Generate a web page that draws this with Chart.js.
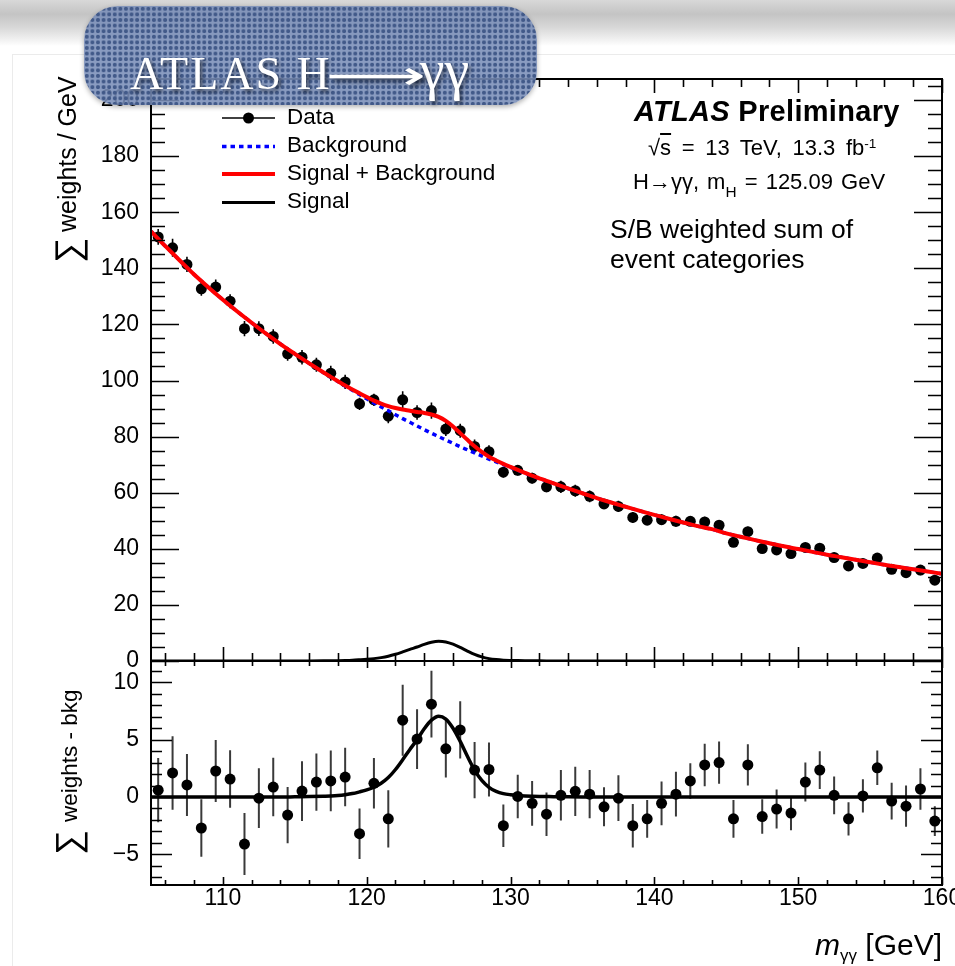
<!DOCTYPE html>
<html>
<head>
<meta charset="utf-8">
<title>ATLAS H→γγ</title>
<script src="https://cdn.jsdelivr.net/npm/chart.js@4.4.1/dist/chart.umd.min.js"></script>
<style>
  body { margin: 0; width: 955px; height: 966px; overflow: hidden; background: #fff; position: relative;
         font-family: "Liberation Sans", Arial, Helvetica, sans-serif; }
  .topbar { position: absolute; left: 0; top: 0; width: 955px; height: 46px;
            background: linear-gradient(#d8d8d8 0px, #c4c4c4 14px, #d9d9d9 28px, #f6f6f6 42px, #fff 46px); }
  .sheet { position: absolute; left: 12px; top: 54px; right: 0; bottom: 0; background: #fff;
           border-left: 1px solid #ebebeb; border-top: 1px solid #ebebeb; }
  .panel { position: absolute; left: 0; width: 955px; }
  #mainPanel { top: 0; height: 700px; }
  #resPanel { top: 630px; height: 336px; }
  .info { position: absolute; white-space: nowrap; line-height: 1; color: #000; }
  .sup { position: relative; top: -0.55em; font-size: 0.62em; }
  .sub { position: relative; top: 0.5em; font-size: 0.7em; }
  .banner { position: absolute; left: 84px; top: 6px; width: 453px; height: 99px; border-radius: 34px;
            background-color: rgba(122, 142, 184, 0.88);
            background-image: radial-gradient(circle, rgba(62, 86, 134, 0.95) 0 1.6px, rgba(62, 86, 134, 0) 2.4px);
            background-size: 5.6px 5.6px;
            box-shadow: 0 2px 5px rgba(0, 0, 0, 0.3); }
  .banner .title { position: absolute; left: 46px; top: 36px; font: 46px "Liberation Serif", "Times New Roman", serif;
                   line-height: 1; color: #fff; letter-spacing: 2px; white-space: nowrap;
                   text-shadow: 2px 3px 4px rgba(0, 0, 0, 0.6); }
  .banner .arrow { display: inline-block; width: 94px; margin-left: -6px; letter-spacing: 0;
                   font: 40px "DejaVu Sans", sans-serif; line-height: 1; }
  .banner .arrow span { display: inline-block; transform: scaleX(1.75); transform-origin: left center; }
  .banner .gam { font-size: 56px; letter-spacing: 0; }
</style>
</head>
<body>
<div class="topbar"></div>
<div class="sheet"></div>
<div class="panel" id="mainPanel"><canvas id="mainChart" width="955" height="700"></canvas></div>
<div class="panel" id="resPanel"><canvas id="resChart" width="955" height="336"></canvas></div>

<div class="info" style="left:634px; top:97px; font-size:29px; font-weight:bold; letter-spacing:0.3px;"><i>ATLAS</i> Preliminary</div>
<div class="info" style="left:648px; top:137px; font-size:22px; word-spacing:4.5px;">√<span style="text-decoration:overline">s</span> = 13 TeV, 13.3 fb<span class="sup">-1</span></div>
<div class="info" style="left:633px; top:171px; font-size:22px; word-spacing:2px;">H→γγ, m<span class="sub">H</span> = 125.09 GeV</div>
<div class="info" style="left:610px; top:216px; font-size:26.5px;">S/B weighted sum of</div>
<div class="info" style="left:610px; top:246px; font-size:26.5px;">event categories</div>

<div class="banner"><div class="title">ATLAS H<span class="arrow"><span>⟶</span></span><span class="gam">γγ</span></div></div>

<script>
// 1 GeV bins of the diphoton mass
const massBins = [105.5, 106.5, 107.5, 108.5, 109.5, 110.5, 111.5, 112.5, 113.5, 114.5,
                  115.5, 116.5, 117.5, 118.5, 119.5, 120.5, 121.5, 122.5, 123.5, 124.5,
                  125.5, 126.5, 127.5, 128.5, 129.5, 130.5, 131.5, 132.5, 133.5, 134.5,
                  135.5, 136.5, 137.5, 138.5, 139.5, 140.5, 141.5, 142.5, 143.5, 144.5,
                  145.5, 146.5, 147.5, 148.5, 149.5, 150.5, 151.5, 152.5, 153.5, 154.5,
                  155.5, 156.5, 157.5, 158.5, 159.5];

// S/B weighted sum of events per GeV
const sumWeights = [151.2, 147.3, 141.4, 132.7, 133.3, 128.3, 118.5, 118.5, 115.7, 109.5,
                    108.3, 105.6, 102.6, 99.5, 91.7, 93.1, 87.3, 93.1, 88.6, 89.3,
                    82.7, 82.1, 76.5, 74.6, 67.3, 68.0, 65.2, 62.1, 62.1, 60.7,
                    58.7, 56.0, 55.1, 51.2, 50.2, 50.4, 49.8, 49.8, 49.6, 48.4,
                    42.3, 46.1, 40.1, 39.6, 38.3, 40.5, 40.2, 36.9, 33.9, 34.8,
                    36.7, 32.7, 31.5, 32.4, 28.8];

const weightErrors = [2.8, 3.2, 2.7, 2.5, 2.7, 2.5, 2.7, 2.6, 2.55, 2.45,
                      2.6, 2.5, 2.65, 2.55, 2.2, 2.2, 2.5, 3.1, 2.6, 2.9,
                      2.5, 2.5, 2.45, 2.35, 1.85, 1.9, 1.95, 1.9, 2.2, 2.15,
                      2.1, 1.7, 2.0, 1.9, 1.65, 1.9, 1.95, 1.55, 1.85, 1.85,
                      1.65, 1.8, 1.5, 1.7, 1.5, 1.7, 1.65, 1.65, 1.45, 1.45,
                      1.5, 1.6, 1.8, 1.8, 1.3];

// data minus fitted background
const residuals = [0.6, 2.1, 1.05, -2.7, 2.27, 1.57, -4.1, -0.1, 0.87, -1.57,
                   0.52, 1.3, 1.4, 1.74, -3.2, 1.2, -1.9, 6.7, 5.05, 8.1,
                   4.2, 5.85, 2.35, 2.4, -2.5, 0.05, -0.55, -1.5, 0.15, 0.5,
                   0.25, -0.85, -0.1, -2.5, -1.9, -0.55, 0.25, 1.4, 2.8, 3.0,
                   -1.9, 2.8, -1.7, -1.05, -1.4, 1.3, 2.35, 0.15, -1.9, 0.1,
                   2.55, -0.35, -0.8, 0.7, -2.1];

// fitted curves, finer sampling around the peak
const fitMass = [105, 106, 107, 108, 109, 110, 111, 112, 113, 114, 115, 116, 117,
                 117.5, 118, 118.5, 119, 119.5, 120, 120.5, 121, 121.5, 122, 122.5, 123,
                 123.5, 124, 124.5, 125, 125.5, 126, 126.5, 127, 127.5, 128, 128.5, 129,
                 129.5, 130, 130.5, 131, 131.5, 132, 132.5, 133,
                 134, 135, 136, 137, 138, 139, 140, 141, 142, 143, 144, 145, 146, 147,
                 148, 149, 150, 151, 152, 153, 154, 155, 156, 157, 158, 159, 160];

const bkgFit = [153.2, 147.9, 142.8, 137.8, 133.2, 128.8, 124.6, 120.6, 116.7, 113.0, 109.5, 106.1, 102.8,
                101.2, 99.6, 98.0, 96.5, 95.0, 93.5, 92.0, 90.6, 89.2, 87.8, 86.4, 85.1,
                83.8, 82.5, 81.2, 80.0, 78.8, 77.6, 76.4, 75.3, 74.2, 73.1, 72.0, 71.0,
                70.0, 69.0, 68.0, 67.0, 66.0, 65.1, 64.2, 63.3,
                61.5, 59.8, 58.1, 56.5, 55.0, 53.5, 52.1, 50.7, 49.4, 48.1, 47.0, 45.5, 44.3, 43.1,
                42.0, 40.9, 39.9, 38.9, 37.9, 37.0, 36.1, 35.2, 34.3, 33.5, 32.7, 31.9, 31.1];

const sigFit = [0, 0, 0, 0, 0, 0, 0, 0, 0, 0, 0.02, 0.04, 0.07,
                0.09, 0.13, 0.2, 0.3, 0.45, 0.62, 0.85, 1.2, 1.7, 2.4, 3.25, 4.15,
                5.0, 5.95, 6.7, 7.05, 6.8, 6.0, 4.85, 3.55, 2.35, 1.45, 0.85, 0.5,
                0.3, 0.2, 0.14, 0.1, 0.07, 0.05, 0.04, 0.03,
                0.02, 0.01, 0, 0, 0, 0, 0, 0, 0, 0, 0, 0, 0, 0,
                0, 0, 0, 0, 0, 0, 0, 0, 0, 0, 0, 0, 0];

const massTicks = [110, 120, 130, 140, 150, 160];
const mainYTicks = [0, 20, 40, 60, 80, 100, 120, 140, 160, 180, 200];
const resYTicks = [-5, 0, 5, 10];

const FONT = "'Liberation Sans', Arial, Helvetica, sans-serif";
Chart.defaults.font.family = FONT;
Chart.defaults.color = '#000';

const toPoints = (xs, ys) => xs.map((x, i) => ({ x: x, y: ys[i] }));
const minusLabel = v => (v < 0 ? '\u2212' + Math.abs(v) : String(v));

// vertical error bars under the markers
const errorBars = {
    id: 'errorBars',
    beforeDatasetsDraw(chart, args, opts) {
        const { ctx, chartArea: a, scales: { x, y } } = chart;
        ctx.save();
        ctx.beginPath();
        ctx.rect(a.left, a.top, a.right - a.left, a.bottom - a.top);
        ctx.clip();
        ctx.strokeStyle = opts.color;
        ctx.lineWidth = opts.width;
        chart.data.datasets.forEach(ds => {
            if (!ds.errors) return;
            ctx.beginPath();
            ds.data.forEach((p, i) => {
                const px = x.getPixelForValue(p.x);
                ctx.moveTo(px, y.getPixelForValue(p.y - ds.errors[i]));
                ctx.lineTo(px, y.getPixelForValue(p.y + ds.errors[i]));
            });
            ctx.stroke();
        });
        ctx.restore();
    }
};

// ROOT style frame, ticks on all four sides pointing inwards
const rootFrame = {
    id: 'rootFrame',
    afterDatasetsDraw(chart, args, o) {
        const { ctx, chartArea: a, scales: { x, y } } = chart;
        ctx.save();
        ctx.strokeStyle = '#000';
        ctx.lineWidth = 1.6;
        ctx.beginPath();
        for (let m = 106; m <= 160; m += 2) {
            const px = Math.round(x.getPixelForValue(m)) + 0.5;
            const major = massTicks.includes(m);
            const lb = major ? o.xMajorBottom : o.xMinorBottom;
            const lt = major ? o.xMajorTop : o.xMinorTop;
            ctx.moveTo(px, a.bottom); ctx.lineTo(px, a.bottom - lb);
            ctx.moveTo(px, a.top); ctx.lineTo(px, a.top + lt);
        }
        for (let v = o.yFrom; v <= y.max; v += o.yStep) {
            const py = Math.round(y.getPixelForValue(v)) + 0.5;
            const len = v % o.yMajorEvery === 0 ? o.yMajor : o.yMinor;
            ctx.moveTo(a.left, py); ctx.lineTo(a.left + len, py);
            ctx.moveTo(a.right, py); ctx.lineTo(a.right - len, py);
        }
        ctx.stroke();
        ctx.lineWidth = 2;
        ctx.strokeRect(a.left, a.top, a.right - a.left, a.bottom - a.top);
        ctx.restore();
    }
};

// rotated y title with an enlarged sum sign in front
function drawSumTitle(ctx, text, size, baseX, startY, sumTop, sumBottom, sumY) {
    ctx.save();
    ctx.fillStyle = '#000';
    ctx.font = '40px ' + FONT;
    const m = ctx.measureText('\u2211');
    const h = m.actualBoundingBoxAscent + m.actualBoundingBoxDescent;
    const s = 40 * (sumBottom - sumTop) / h;
    ctx.font = s + 'px ' + FONT;
    const ms = ctx.measureText('\u2211');
    ctx.translate(sumBottom - ms.actualBoundingBoxDescent, sumY);
    ctx.rotate(-Math.PI / 2);
    ctx.fillText('\u2211', ms.actualBoundingBoxLeft, 0);
    ctx.restore();

    ctx.save();
    ctx.fillStyle = '#000';
    ctx.font = size + 'px ' + FONT;
    ctx.translate(baseX, startY);
    ctx.rotate(-Math.PI / 2);
    ctx.fillText(text, 0, 0);
    ctx.restore();
}

const mainDecor = {
    id: 'mainDecor',
    afterDraw(chart) {
        const ctx = chart.ctx;
        const ds = chart.data.datasets;
        const rows = [
            { i: 3, lineY: 118, textY: 124 },
            { i: 1, lineY: 146.5, textY: 152 },
            { i: 0, lineY: 174, textY: 180 },
            { i: 2, lineY: 202.5, textY: 208 }
        ];
        ctx.save();
        rows.forEach(r => {
            const d = ds[r.i];
            ctx.beginPath();
            if (d.showLine) {
                ctx.strokeStyle = d.borderColor;
                ctx.lineWidth = d.borderWidth;
                ctx.setLineDash(d.borderDash || []);
                ctx.moveTo(222, r.lineY); ctx.lineTo(275, r.lineY);
                ctx.stroke();
                ctx.setLineDash([]);
            } else {
                ctx.strokeStyle = '#000';
                ctx.lineWidth = 1.5;
                ctx.moveTo(222, r.lineY); ctx.lineTo(275, r.lineY);
                ctx.stroke();
                ctx.beginPath();
                ctx.fillStyle = '#000';
                ctx.arc(248.5, r.lineY, d.pointRadius, 0, Math.PI * 2);
                ctx.fill();
            }
            ctx.fillStyle = '#000';
            ctx.font = '22.5px ' + FONT;
            ctx.fillText(d.label, 287, r.textY);
        });
        ctx.restore();
        drawSumTitle(ctx, 'weights / GeV', 25, 76, 232, 55, 88, 261);
    }
};

const resDecor = {
    id: 'resDecor',
    afterDraw(chart) {
        const ctx = chart.ctx;
        const off = 630;
        drawSumTitle(ctx, 'weights - bkg', 22.5, 77, 822 - off, 56, 88, 853 - off);

        // m_γγ [GeV], right aligned at the frame edge
        const base = 955 - off;
        ctx.save();
        ctx.fillStyle = '#000';
        ctx.font = 'italic 30px ' + FONT;
        const wm = ctx.measureText('m').width;
        ctx.font = '17px ' + FONT;
        const wg = ctx.measureText('\u03b3\u03b3').width;
        ctx.font = '30px ' + FONT;
        const wu = ctx.measureText(' [GeV]').width;
        let x0 = chart.chartArea.right - (wm + wg + wu);
        ctx.font = 'italic 30px ' + FONT;
        ctx.fillText('m', x0, base);
        ctx.font = '17px ' + FONT;
        ctx.fillText('\u03b3\u03b3', x0 + wm, base + 6);
        ctx.font = '30px ' + FONT;
        ctx.fillText(' [GeV]', x0 + wm + wg, base);
        ctx.restore();
    }
};

const curve = (label, data, color, width, dash) => ({
    label: label, data: data, showLine: true, borderColor: color, backgroundColor: color,
    borderWidth: width, borderDash: dash, pointRadius: 0, cubicInterpolationMode: 'monotone', fill: false
});

const splusb = fitMass.map((m, i) => ({ x: m, y: bkgFit[i] + sigFit[i] }));

new Chart(document.getElementById('mainChart'), {
    type: 'scatter',
    data: {
        datasets: [
            curve('Signal + Background', splusb, '#ff0000', 4, []),
            curve('Background', toPoints(fitMass, bkgFit), '#0000ff', 3.5, [4.5, 4]),
            curve('Signal', toPoints(fitMass, sigFit), '#000000', 3, []),
            {
                label: 'Data', data: toPoints(massBins, sumWeights), errors: weightErrors, showLine: false,
                pointRadius: 5.5, pointBorderWidth: 0, backgroundColor: '#000', borderColor: '#000'
            }
        ]
    },
    options: {
        responsive: false, animation: false, events: [],
        layout: { padding: { left: 0, right: 13, top: 79, bottom: 39 } },
        plugins: {
            legend: { display: false }, tooltip: { enabled: false },
            errorBars: { color: '#000', width: 1.6 },
            rootFrame: { xMajorBottom: 14, xMinorBottom: 8, xMajorTop: 14, xMinorTop: 8,
                         yFrom: 0, yStep: 5, yMajorEvery: 20, yMajor: 28, yMinor: 14 }
        },
        scales: {
            x: { type: 'linear', min: 105, max: 160, display: false },
            y: {
                type: 'linear', min: 0, max: 207.5,
                grid: { display: false }, border: { display: false },
                ticks: { font: { size: 23 }, padding: 4, color: '#000' },
                afterBuildTicks: s => { s.ticks = mainYTicks.map(v => ({ value: v })); },
                afterFit: s => { s.width = 151; s.paddingTop = 0; s.paddingBottom = 0; }
            }
        }
    },
    plugins: [errorBars, rootFrame, mainDecor]
});

new Chart(document.getElementById('resChart'), {
    type: 'scatter',
    data: {
        datasets: [
            curve('Signal', toPoints(fitMass, sigFit), '#000000', 3.5, []),
            {
                label: 'Data - Background', data: toPoints(massBins, residuals), errors: weightErrors, showLine: false,
                pointRadius: 5.5, pointBorderWidth: 0, backgroundColor: '#000', borderColor: '#000'
            }
        ]
    },
    options: {
        responsive: false, animation: false, events: [],
        layout: { padding: { left: 0, right: 13, top: 31, bottom: 0 } },
        plugins: {
            legend: { display: false }, tooltip: { enabled: false },
            errorBars: { color: '#3a3a3a', width: 2 },
            rootFrame: { xMajorBottom: 8, xMinorBottom: 5, xMajorTop: 7, xMinorTop: 5,
                         yFrom: -7, yStep: 1, yMajorEvery: 5, yMajor: 21, yMinor: 11 }
        },
        scales: {
            x: {
                type: 'linear', min: 105, max: 160,
                grid: { display: false }, border: { display: false },
                ticks: { font: { size: 23 }, padding: -8, color: '#000', maxRotation: 0 },
                afterBuildTicks: s => { s.ticks = massTicks.map(v => ({ value: v })); },
                afterFit: s => { s.height = 81; s.paddingLeft = 0; s.paddingRight = 0; }
            },
            y: {
                type: 'linear', min: -7.67, max: 11.86,
                grid: { display: false }, border: { display: false },
                ticks: { font: { size: 23 }, padding: 4, color: '#000', callback: v => minusLabel(v) },
                afterBuildTicks: s => { s.ticks = resYTicks.map(v => ({ value: v })); },
                afterFit: s => { s.width = 151; s.paddingTop = 0; s.paddingBottom = 0; }
            }
        }
    },
    plugins: [errorBars, rootFrame, resDecor]
});
</script>
</body>
</html>
